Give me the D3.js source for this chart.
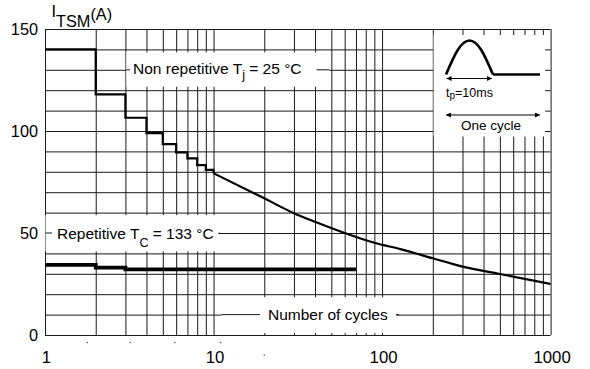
<!DOCTYPE html>
<html><head><meta charset="utf-8">
<script src="https://cdn.jsdelivr.net/npm/d3@7"></script>
<style>html,body{margin:0;padding:0;background:#fff;} svg{display:block;font-family:"Liberation Sans",Arial,Helvetica,sans-serif;}</style>
</head><body><svg id="c" width="590" height="369"></svg>
<script>
// ---- data ----
const xTickValues = [1, 10, 100, 1000];
const xTickLabels = ["1", "10", "100", "1000"];
const yTickValues = [0, 50, 100, 150];
const yTickLabels = ["0", "50", "100", "150"];
const xGridValues = [1,2,3,4,5,6,7,8,9,10,20,30,40,50,60,70,80,90,100,200,300,400,500,600,700,800,900,1000];
const yGridValues = [0,10,20,30,40,50,60,70,80,90,100,110,120,130,140,150];
// non repetitive Tj = 25 °C (steps then continuous curve)
const nonRepStepCycles = [1, 2, 3, 4, 5, 6, 7, 8, 9, 10];
const nonRepStepCurrent = [140, 118, 106.5, 99, 93.6, 89.5, 86.6, 83.3, 80.9, 79.3];
const nonRepCurveCycles = [10, 20, 30, 40, 60, 90, 130, 200, 300, 500, 1000];
const nonRepCurveCurrent = [79.3, 67, 59.7, 55.5, 50, 45.2, 42, 37.6, 33.5, 29.9, 25];
// repetitive Tc = 133 °C
const repCycles = [1, 2, 3, 70];
const repCurrent = [34.4, 33, 32.2, 32.2];
// inset pulse (time in ms, relative amplitude)
const pulseMs = [0, 2.5, 5, 7.5, 10];
const pulseAmp = [0, 0.72, 1, 0.72, 0];
const flatMs = [10, 20];
const flatAmp = [0, 0];
// stray marks under the axis
const strayDotCycles = [1.78, 3.2, 5.9, 11];

(function () {
const svg = d3.select("#c");
const pLeft = 45, pRight = 550.6, pTop = 29, pBottom = 335;
const x = d3.scaleLog().domain([1, 1000]).range([pLeft, pRight]);
const y = d3.scaleLinear().domain([0, 150]).range([pBottom, pTop]);
const FONT = '"Liberation Sans", Arial, Helvetica, sans-serif';
const GRID = "#1a1a1a";

// ---- grid via axes ----
const gx = svg.append("g").attr("transform", `translate(0,${pBottom})`)
  .call(d3.axisBottom(x).tickValues(xGridValues).tickSize(-(pBottom - pTop)).tickFormat(""));
gx.select(".domain").remove();
gx.selectAll("line").attr("stroke", GRID).attr("stroke-width", 1);
const gy = svg.append("g").attr("transform", `translate(${pLeft},0)`)
  .call(d3.axisLeft(y).tickValues(yGridValues).tickSize(-(pRight - pLeft)).tickFormat(""));
gy.select(".domain").remove();
gy.selectAll("line").attr("stroke", GRID).attr("stroke-width", 1);

// ---- tick labels via axes ----
const ax = svg.append("g").attr("transform", `translate(1,${pBottom})`)
  .call(d3.axisBottom(x).tickValues(xTickValues).tickSize(0).tickPadding(0)
    .tickFormat((d, i) => xTickLabels[i]));
ax.select(".domain").remove();
ax.selectAll("text").attr("font-family", FONT).attr("font-size", 16.8).attr("fill", "#000")
  .attr("dy", null).attr("y", 28);
const ay = svg.append("g").attr("transform", `translate(38,0)`)
  .call(d3.axisLeft(y).tickValues(yTickValues).tickSize(0).tickPadding(0)
    .tickFormat((d, i) => yTickLabels[i]));
ay.select(".domain").remove();
ay.selectAll("text").attr("font-family", FONT).attr("font-size", 16.3).attr("fill", "#000")
  .attr("dy", "0.36em");

// stray dots
svg.append("g").selectAll("circle").data(strayDotCycles).join("circle")
  .attr("cx", d => x(d)).attr("cy", pBottom + 7.5).attr("r", 0.8).attr("fill", "#555");
svg.append("circle").attr("cx", x(20)).attr("cy", pBottom + 20).attr("r", 0.8).attr("fill", "#555");

// ---- y axis title ----
const yt = svg.append("text").attr("x", 51.5).attr("y", 17).attr("font-family", FONT)
  .attr("font-size", 16.3).attr("fill", "#000");
yt.append("tspan").text("I");
yt.append("tspan").attr("dy", 10).text("TSM");
yt.append("tspan").attr("dy", -7).text("(A)");

// ---- label boxes ----
function labelBox(x0, x1, y0, y1, lineY, tx, ty, padL, padR, build) {
  const g = svg.append("g");
  g.append("rect").attr("x", x0).attr("y", y0).attr("width", x1 - x0).attr("height", y1 - y0).attr("fill", "#fff");
  const t = g.append("text").attr("x", tx).attr("y", ty).attr("font-family", FONT)
    .attr("font-size", 15.5).attr("fill", "#000");
  build(t);
  const bb = t.node().getBBox();
  g.insert("line", "text").attr("x1", x0).attr("x2", bb.x - padL).attr("y1", lineY).attr("y2", lineY)
    .attr("stroke", GRID).attr("stroke-width", 1);
  g.insert("line", "text").attr("x1", bb.x + bb.width + padR).attr("x2", x1).attr("y1", lineY).attr("y2", lineY)
    .attr("stroke", GRID).attr("stroke-width", 1);
}
labelBox(x(3) + 1, x(50) - 2, y(140) + 3, y(120) - 3.5, y(130), 133, y(130) + 3.7, 3, 15, t => {
  t.append("tspan").text("Non repetitive T");
  t.append("tspan").attr("dy", 5).attr("font-size", 12.5).text("j");
  t.append("tspan").attr("dy", -5).text(" = 25 °C");
});
labelBox(x(1) + 0.5, x(10) + 5, y(60) + 2.5, y(40) - 2, y(50), 57, y(50) + 5.8, 5, 6, t => {
  t.append("tspan").text("Repetitive T");
  t.append("tspan").attr("dy", 8).attr("font-size", 12.5).text("C");
  t.append("tspan").attr("dy", -8).text(" = 133 °C");
});
labelBox(x(10) + 8, x(100) + 14, y(20) + 3, y(0) - 2, y(10), 268, y(10) + 5.4, 8, 11, t => {
  t.text("Number of cycles");
});

// ---- inset ----
svg.append("rect").attr("x", x(200) + 0.8).attr("y", y(150) + 6)
  .attr("width", x(1000) - 5.5 - (x(200) + 0.8)).attr("height", y(100) + 5.5 - (y(150) + 6)).attr("fill", "#fff");
const ix = d3.scaleLinear().domain([0, 20]).range([446, 540]);
const iy = d3.scaleLinear().domain([0, 1]).range([74.5, 40.5]);
const ig = svg.append("g");
ig.append("path").datum(pulseMs.map((t, i) => [t, pulseAmp[i]]))
  .attr("d", d3.line().x(d => ix(d[0])).y(d => iy(d[1])).curve(d3.curveNatural))
  .attr("fill", "none").attr("stroke", "#000").attr("stroke-width", 2.6);
ig.append("path").datum(flatMs.map((t, i) => [t, flatAmp[i]]))
  .attr("d", d3.line().x(d => ix(d[0])).y(d => iy(d[1])))
  .attr("fill", "none").attr("stroke", "#000").attr("stroke-width", 2.6);
const defs = svg.append("defs");
defs.append("marker").attr("id", "ah").attr("viewBox", "0 0 10 10").attr("refX", 10).attr("refY", 5)
  .attr("markerWidth", 7).attr("markerHeight", 5).attr("markerUnits", "userSpaceOnUse")
  .attr("orient", "auto-start-reverse")
  .append("path").attr("d", "M0,0 L10,5 L0,10 z").attr("fill", "#000");
function arrow(t0, t1, yy) {
  ig.append("line").attr("x1", ix(t0)).attr("x2", ix(t1)).attr("y1", yy).attr("y2", yy)
    .attr("stroke", "#000").attr("stroke-width", 1.1)
    .attr("marker-start", "url(#ah)").attr("marker-end", "url(#ah)");
}
arrow(0.1, 9.8, 78.5);
arrow(0, 20, 115);
const tp = ig.append("text").attr("x", ix(0)).attr("y", 96.7).attr("font-family", FONT)
  .attr("font-size", 12.5).attr("fill", "#000");
tp.append("tspan").text("t");
tp.append("tspan").attr("dy", 2.5).attr("font-size", 10).text("p");
tp.append("tspan").attr("dy", -2.5).text("=10ms");
ig.append("text").attr("x", 491).attr("y", 130).attr("text-anchor", "middle").attr("font-family", FONT)
  .attr("font-size", 13.5).attr("fill", "#000").text("One cycle");

// ---- curves ----
svg.append("path").datum(nonRepStepCycles.map((c, i) => [c, nonRepStepCurrent[i]]))
  .attr("d", d3.line().x(d => x(d[0])).y(d => y(d[1])).curve(d3.curveStepAfter))
  .attr("fill", "none").attr("stroke", "#000").attr("stroke-width", 2.2);
svg.append("path").datum(nonRepCurveCycles.map((c, i) => [c, nonRepCurveCurrent[i]]))
  .attr("d", d3.line().x(d => x(d[0])).y(d => y(d[1])).curve(d3.curveMonotoneX))
  .attr("fill", "none").attr("stroke", "#000").attr("stroke-width", 2.2);
svg.append("path").datum(repCycles.map((c, i) => [c, repCurrent[i]]))
  .attr("d", d3.line().x(d => x(d[0])).y(d => y(d[1])).curve(d3.curveStepAfter))
  .attr("fill", "none").attr("stroke", "#000").attr("stroke-width", 3.8);
})();
</script></body></html>
